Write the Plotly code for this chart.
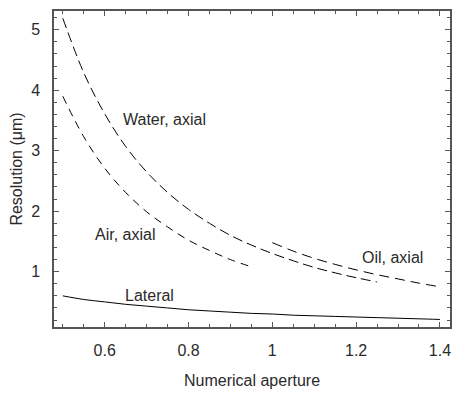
import plotly.graph_objects as go

# Numerical aperture samples
na_air = [0.50, 0.55, 0.60, 0.65, 0.70, 0.75, 0.80, 0.85, 0.90, 0.95]
res_air = [3.90, 3.23, 2.71, 2.31, 1.99, 1.74, 1.52, 1.35, 1.20, 1.08]

na_water = [0.50, 0.55, 0.60, 0.65, 0.70, 0.75, 0.80, 0.85, 0.90, 0.95,
            1.00, 1.05, 1.10, 1.15, 1.20, 1.25]
res_water = [5.19, 4.29, 3.61, 3.07, 2.65, 2.31, 2.03, 1.80, 1.60, 1.44,
             1.30, 1.18, 1.07, 0.98, 0.90, 0.83]

na_oil = [1.00, 1.05, 1.10, 1.15, 1.20, 1.25, 1.30, 1.35, 1.40]
res_oil = [1.48, 1.34, 1.22, 1.12, 1.03, 0.95, 0.88, 0.81, 0.75]

na_lat = [0.50, 0.55, 0.60, 0.65, 0.70, 0.75, 0.80, 0.85, 0.90, 0.95,
          1.00, 1.05, 1.10, 1.15, 1.20, 1.25, 1.30, 1.35, 1.40]
res_lat = [0.60, 0.54, 0.50, 0.46, 0.43, 0.40, 0.37, 0.35, 0.33, 0.31,
           0.30, 0.28, 0.27, 0.26, 0.25, 0.24, 0.23, 0.22, 0.21]

labels = ["Water, axial", "Air, axial", "Oil, axial", "Lateral"]
label_x = [0.742, 0.648, 1.286, 0.707]
label_y = [3.51, 1.61, 1.24, 0.60]

FONT = "Liberation Sans, Arial, Helvetica, sans-serif"
AX = "#555555"
TXT = "#2a2a2a"

fig = go.Figure()
fig.add_trace(go.Scatter(x=na_water, y=res_water, mode="lines", line_shape="spline",
                         line=dict(color="black", width=1, dash="10px,5px")))
fig.add_trace(go.Scatter(x=na_air, y=res_air, mode="lines", line_shape="spline",
                         line=dict(color="black", width=1, dash="8px,6px")))
fig.add_trace(go.Scatter(x=na_oil, y=res_oil, mode="lines", line_shape="spline",
                         line=dict(color="black", width=1, dash="10px,6px")))
fig.add_trace(go.Scatter(x=na_lat, y=res_lat, mode="lines", line_shape="spline",
                         line=dict(color="black", width=1)))

for t, x, y in zip(labels, label_x, label_y):
    fig.add_annotation(x=x, y=y, text=t, showarrow=False,
                       font=dict(family=FONT, size=16, color=TXT))

# page body adds an 8px offset; compensate in figure size and margins
fig.update_layout(
    width=465, height=389,
    margin=dict(l=46, r=23, t=3, b=70),
    plot_bgcolor="white", paper_bgcolor="white",
    showlegend=False,
    font=dict(family=FONT, size=16, color=TXT),
)
fig.update_xaxes(
    range=[0.479, 1.424], tickvals=[0.6, 0.8, 1.0, 1.2, 1.4],
    ticktext=["0.6", "0.8", "1", "1.2", "1.4"],
    showgrid=False, zeroline=False, automargin=False,
    showline=True, linecolor=AX, linewidth=1.5, mirror="ticks",
    ticks="inside", ticklen=5, tickcolor=AX, tickwidth=1,
    ticklabelstandoff=8,
    minor=dict(dtick=0.05, tick0=0.5, ticks="inside", ticklen=3, tickcolor=AX, showgrid=False),
    title=dict(text="Numerical aperture", font=dict(size=16), standoff=17),
)
fig.update_yaxes(
    range=[0.085, 5.31], tickvals=[1, 2, 3, 4, 5],
    showgrid=False, zeroline=False, automargin=False,
    showline=True, linecolor=AX, linewidth=1.5, mirror="ticks",
    ticks="inside", ticklen=5, tickcolor=AX, tickwidth=1,
    ticklabelstandoff=9,
    minor=dict(dtick=0.2, tick0=0, ticks="inside", ticklen=3, tickcolor=AX, showgrid=False),
    title=dict(text="Resolution (μm)", font=dict(size=16), standoff=5),
)

fig.write_html("out.html")
